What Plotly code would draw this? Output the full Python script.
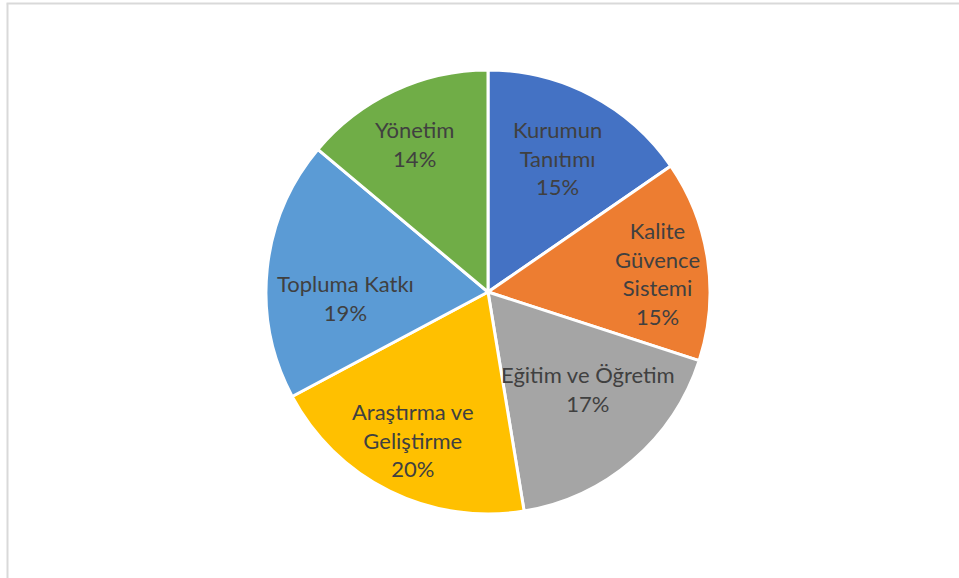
import plotly.graph_objects as go

W, H = 959, 578

labels = ["Kurumun Tanıtımı", "Kalite Güvence Sistemi", "Eğitim ve Öğretim",
          "Araştırma ve Geliştirme", "Topluma Katkı", "Yönetim"]
display_labels = ["Kurumun<br>Tanıtımı", "Kalite<br>Güvence<br>Sistemi", "Eğitim ve Öğretim",
                  "Araştırma ve<br>Geliştirme", "Topluma Katkı", "Yönetim"]
values = [15.4, 14.6, 17.4, 19.8, 18.9, 13.9]
colors = ["#4472C4", "#ED7D31", "#A5A5A5", "#FFC000", "#5B9BD5", "#70AD47"]

# label placement: pixel offsets from pie centre
label_offsets = [(69, -134), (169, -19), (100, 97), (-75, 148), (-143, 6), (-74, -148)]

cx, cy, R = 488, 292, 222

fig = go.Figure(go.Pie(
    labels=labels,
    values=values,
    sort=False,
    direction="clockwise",
    rotation=0,
    marker=dict(colors=colors, line=dict(color="white", width=3)),
    textinfo="none",
    hoverinfo="label+percent",
    showlegend=False,
    domain=dict(x=[(cx - R) / W, (cx + R) / W], y=[1 - (cy + R) / H, 1 - (cy - R) / H]),
))

total = sum(values)
font = dict(family="Lato, Carlito, sans-serif", size=22, color="#404040")
for lab, v, (dx, dy) in zip(display_labels, values, label_offsets):
    pct = round(100 * v / total)
    fig.add_annotation(
        x=(cx + dx) / W, y=1 - (cy + dy) / H, xref="paper", yref="paper",
        text=f"{lab}<br>{pct}%", showarrow=False, font=font,
        xanchor="center", yanchor="middle", align="center",
    )

fig.add_shape(type="line", xref="paper", yref="paper",
              x0=7.5 / W, x1=7.5 / W, y0=0, y1=1 - 3.5 / H,
              line=dict(color="#D9D9D9", width=2))
fig.add_shape(type="line", xref="paper", yref="paper",
              x0=6.5 / W, x1=1, y0=1 - 3.5 / H, y1=1 - 3.5 / H,
              line=dict(color="#D9D9D9", width=2))

fig.update_layout(
    width=W, height=H,
    margin=dict(l=0, r=0, t=0, b=0),
    paper_bgcolor="white", plot_bgcolor="white",
)

fig.write_html("out.html",
               config={"displayModeBar": False},
               post_script="document.body.style.margin='0';document.body.style.overflow='hidden';")
